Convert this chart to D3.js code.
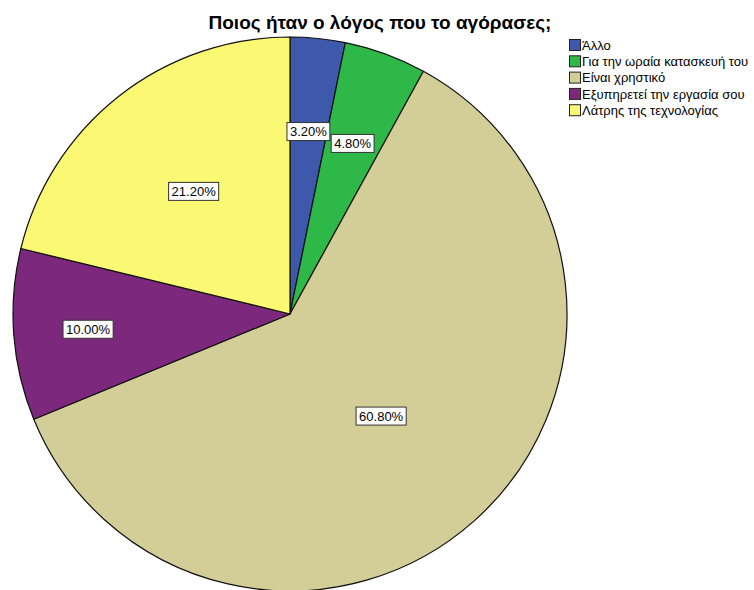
<!DOCTYPE html>
<html>
<head>
<meta charset="utf-8">
<script src="https://cdn.jsdelivr.net/npm/d3@7"></script>
<style>
  html, body { margin: 0; padding: 0; background: #ffffff; }
  svg { display: block; font-family: "Liberation Sans", Arial, sans-serif; }
</style>
</head>
<body>
<svg id="chart" width="754" height="590"></svg>
<script>
// Reasons for purchase (percent of respondents)
const categories = [
  "Άλλο",
  "Για την ωραία κατασκευή του",
  "Είναι χρηστικό",
  "Εξυπηρετεί την εργασία σου",
  "Λάτρης της τεχνολογίας"
];
const percentages = [3.2, 4.8, 60.8, 10.0, 21.2];
const percentLabels = ["3.20%", "4.80%", "60.80%", "10.00%", "21.20%"];
const title = "Ποιος ήταν ο λόγος που το αγόρασες;";

// Slice fills and label placement (fraction of radius) per slice
const sliceColors = ["#3e58ac", "#2eb848", "#d3ce97", "#7c287d", "#fbf873"];
const labelRadiusFactor = [0.662, 0.656, 0.494, 0.731, 0.563];

const svg = d3.select("#chart");
const cx = 290, cy = 314, radius = 277;

svg.append("text")
  .attr("x", 380)
  .attr("y", 29)
  .attr("text-anchor", "middle")
  .attr("font-size", 19)
  .attr("font-weight", "bold")
  .attr("fill", "#000")
  .text(title);

const pie = d3.pie().sort(null).value(d => d).startAngle(0).endAngle(2 * Math.PI);
const arcs = pie(percentages);
const arc = d3.arc().innerRadius(0).outerRadius(radius);

const g = svg.append("g").attr("transform", `translate(${cx},${cy})`);

g.selectAll("path.slice")
  .data(arcs)
  .join("path")
  .attr("class", "slice")
  .attr("d", arc)
  .attr("fill", (d, i) => sliceColors[i])
  .attr("stroke", "#111")
  .attr("stroke-width", 1.2)
  .attr("stroke-linejoin", "round");

// Value labels in white boxes
const labels = g.selectAll("g.lbl")
  .data(arcs)
  .join("g")
  .attr("class", "lbl")
  .attr("transform", (d, i) => {
    const r = radius * labelRadiusFactor[i];
    const c = d3.arc().innerRadius(r).outerRadius(r).centroid(d);
    return `translate(${c[0]},${c[1]})`;
  });

labels.each(function (d, i) {
  const sel = d3.select(this);
  const t = sel.append("text")
    .attr("text-anchor", "middle")
    .attr("dy", "0.36em")
    .attr("font-size", 13)
    .attr("fill", "#000")
    .text(percentLabels[i]);
  const w = t.node().getComputedTextLength() + 6;
  const h = 18;
  sel.insert("rect", "text")
    .attr("x", -w / 2)
    .attr("y", -h / 2)
    .attr("width", w)
    .attr("height", h)
    .attr("fill", "#fff")
    .attr("stroke", "#333")
    .attr("stroke-width", 1);
});

// Legend
const legend = svg.append("g").attr("transform", "translate(569,39)");
const rowH = 16.3;
const items = legend.selectAll("g.item")
  .data(categories)
  .join("g")
  .attr("class", "item")
  .attr("transform", (d, i) => `translate(0,${i * rowH})`);

items.append("rect")
  .attr("x", 0.5)
  .attr("y", 0.5)
  .attr("width", 11)
  .attr("height", 11)
  .attr("fill", (d, i) => sliceColors[i])
  .attr("stroke", "#222")
  .attr("stroke-width", 1);

items.append("text")
  .attr("x", 13)
  .attr("y", 6)
  .attr("dy", "0.36em")
  .attr("font-size", 13)
  .attr("fill", "#000")
  .text(d => d);
</script>
</body>
</html>
